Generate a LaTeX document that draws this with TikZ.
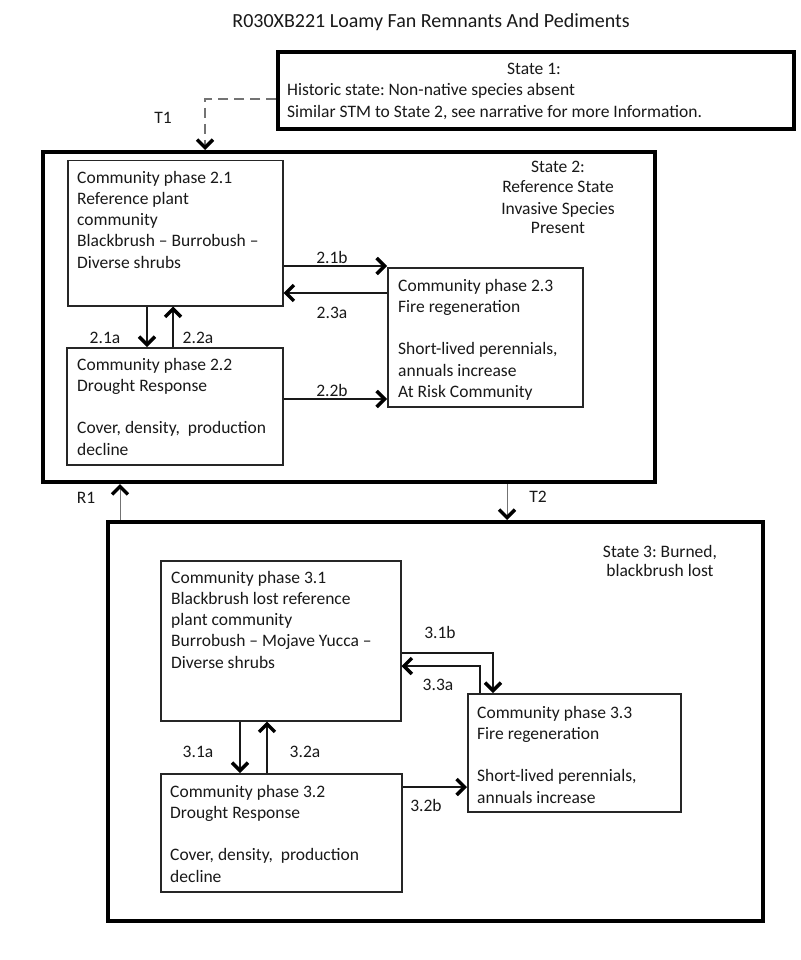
\documentclass[tikz,border=0pt]{standalone}
\usepackage{fontspec}
\setmainfont{Carlito}
\usetikzlibrary{arrows.meta}
\frenchspacing
\newcommand\tl[1]{\begin{tabular}[t]{@{}l@{}}#1\end{tabular}}
\newcommand\tc[1]{\begin{tabular}[t]{@{}c@{}}#1\end{tabular}}
\tikzset{
  statebox/.style={draw=black, line width=4pt, minimum width=#1, anchor=north west, inner sep=0pt},
  phasebox/.style={draw=black!85, line width=1.5pt, anchor=north west, inner sep=0pt},
  txt/.style={inner sep=0pt, font=\fontsize{17.5}{21.3}\selectfont, text=black!90},
  lbl/.style={inner sep=0pt, font=\fontsize{17.5}{21.3}\selectfont, text=black!90},
  tipb/.style={-{Straight Barb[length=8pt,width=16pt,line width=3.4pt,color=black]}},
  arr/.style={draw=black!90, line width=1.5pt, tipb},
  thinarr/.style={draw=black!55, line width=1pt, tipb},
  dasharr/.style={draw=black!55, line width=2.2pt, dash pattern=on 10pt off 6pt, tipb},
}
\begin{document}
\begin{tikzpicture}[x=1pt,y=-1pt]
\useasboundingbox[fill=white] (0,0) rectangle (800,960);

% title
\node[txt, font=\fontsize{20}{24}\selectfont, anchor=base] (title) at (431,28) {R030XB221 Loamy Fan Remnants And Pediments};

% state boxes
\node[statebox=516pt, minimum height=77pt] (s1) at (276,50) {};
\node[statebox=612pt, minimum height=330pt] (s2) at (41,150) {};
\node[statebox=655pt, minimum height=399pt] (s3) at (106,520) {};

% phase boxes
\node[phasebox, minimum width=215pt, minimum height=145pt] (p21) at (67,160) {};
\node[phasebox, minimum width=216pt, minimum height=117pt] (p22) at (66,347) {};
\node[phasebox, minimum width=195pt, minimum height=139pt] (p23) at (387,267) {};
\node[phasebox, minimum width=240pt, minimum height=160pt] (p31) at (160,560) {};
\node[phasebox, minimum width=241pt, minimum height=118pt] (p32) at (160,773) {};
\node[phasebox, minimum width=213pt, minimum height=118pt] (p33) at (467,693) {};

% state texts
\node[txt, anchor=base] (s1h) at (534,75) {State 1:};
\node[txt, anchor=base west] (s1t) at (287,96) {\tl{Historic state: Non-native species absent\\[0.7pt]Similar STM to State 2, see narrative for more Information.}};
\node[txt, anchor=base] (s2t) at (558,173) {\tc{State 2:\\[-2.3pt]Reference State\\[0.7pt]Invasive Species\\[-2.3pt]Present}};
\node[txt, anchor=base] (s3t) at (660,557) {\tc{State 3: Burned,\\[-2.3pt]blackbrush lost}};

% phase texts
\node[txt, anchor=base west] (t21) at (77,183) {\tl{Community phase 2.1\\Reference plant\\community\\Blackbrush – Burrobush –\\Diverse shrubs}};
\node[txt, anchor=base west] (t22) at (77,370) {\tl{Community phase 2.2\\Drought Response\\ \\Cover, density,\ \ production\\decline}};
\node[txt, anchor=base west] (t23) at (398,291) {\tl{Community phase 2.3\\Fire regeneration\\ \\Short-lived perennials,\\annuals increase\\At Risk Community}};
\node[txt, anchor=base west] (t31) at (171,583) {\tl{Community phase 3.1\\Blackbrush lost reference\\plant community\\Burrobush – Mojave Yucca –\\Diverse shrubs}};
\node[txt, anchor=base west] (t32) at (170,797) {\tl{Community phase 3.2\\Drought Response\\ \\Cover, density,\ \ production\\decline}};
\node[txt, anchor=base west] (t33) at (477,718) {\tl{Community phase 3.3\\Fire regeneration\\ \\Short-lived perennials,\\annuals increase}};

% transitions between states
\coordinate (t1c) at (205,99);
\draw[dasharr] (s1.west |- t1c) -- (t1c) -- (t1c |- s2.north);
\draw[thinarr] (s3.north -| 120,0) -- (s2.south -| 120,0);
\draw[thinarr] (s2.south -| 507,0) -- (s3.north -| 507,0);

% state 2 pathways
\draw[arr] (p21.east |- 0,266) -- (p23.west |- 0,266);
\draw[arr] (p23.west |- 0,293) -- (p21.east |- 0,293);
\draw[arr] (p22.east |- 0,399) -- (p23.west |- 0,399);
\draw[arr] (p21.south -| 147,0) -- (p22.north -| 147,0);
\draw[arr] (p22.north -| 173,0) -- (p21.south -| 173,0);

% state 3 pathways
\draw[arr] (p31.east |- 0,653) -- (493,653) -- (p33.north -| 493,0);
\draw[arr] (p33.north -| 480,0) -- (480,666) -- (p31.east |- 0,666);
\draw[arr] (p31.south -| 240,0) -- (p32.north -| 240,0);
\draw[arr] (p32.north -| 267,0) -- (p31.south -| 267,0);
\draw[arr] (p32.east |- 0,787) -- (p33.west |- 0,787);

% labels
\node[lbl] (lT1) at (163,118) {T1};
\node[lbl] (lR1) at (86,498) {R1};
\node[lbl] (lT2) at (538,497) {T2};
\node[lbl] (l21b) at (332,257) {2.1b};
\node[lbl] (l23a) at (332,313) {2.3a};
\node[lbl] (l22b) at (332,390) {2.2b};
\node[lbl] (l21a) at (105,338) {2.1a};
\node[lbl] (l22a) at (198,338) {2.2a};
\node[lbl] (l31b) at (440,632) {3.1b};
\node[lbl] (l33a) at (438,685) {3.3a};
\node[lbl] (l31a) at (198,752) {3.1a};
\node[lbl] (l32a) at (305,752) {3.2a};
\node[lbl] (l32b) at (426,805) {3.2b};
\end{tikzpicture}
\end{document}
